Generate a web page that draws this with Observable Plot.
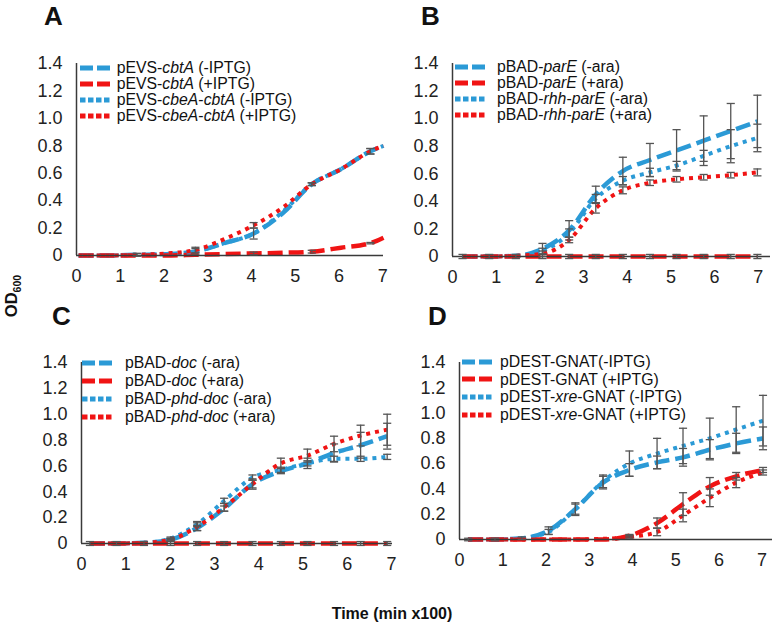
<!DOCTYPE html>
<html>
<head>
<meta charset="utf-8">
<script src="https://cdn.jsdelivr.net/npm/d3@7"></script>
<script src="https://cdn.jsdelivr.net/npm/@observablehq/plot@0.6"></script>
<style>
  html, body { margin: 0; padding: 0; background: #fff; }
  #root { position: relative; width: 779px; height: 632px; overflow: hidden; font-family: "Liberation Sans", Arial, sans-serif; }
  .panel { position: absolute; }
  .legend { position: absolute; font-size: 15.8px; color: #111; white-space: nowrap; }
  .legend .row { display: flex; align-items: center; }
</style>
</head>
<body>
<div id="root"></div>
<script>
// ---------- shared tick labels ----------
const yTicks = [0, 0.2, 0.4, 0.6, 0.8, 1.0, 1.2, 1.4];
const yTickLabels = ["0", "0.2", "0.4", "0.6", "0.8", "1.0", "1.2", "1.4"];
const xTicks = [0, 1, 2, 3, 4, 5, 6, 7];
const xTickLabels = ["0", "1", "2", "3", "4", "5", "6", "7"];

// ---------- Panel A ----------
const A_x  = [0.05, 0.72, 1.38, 2.05, 2.72, 3.38, 4.05, 4.72, 5.38, 6.05, 6.72, 7.02];
const A_y1 = [0, 0, 0.005, 0.01, 0.03, 0.09, 0.16, 0.31, 0.52, 0.63, 0.76, 0.80];
const A_y2 = [0, 0, 0, 0, 0.005, 0.01, 0.015, 0.02, 0.028, 0.057, 0.09, 0.13];
const A_y3 = [0, 0, 0.005, 0.01, 0.03, 0.09, 0.16, 0.32, 0.52, 0.63, 0.76, 0.80];
const A_y4 = [0, 0, 0.005, 0.015, 0.04, 0.12, 0.22, 0.35, 0.52, 0.63, 0.76, 0.80];
const A_e1 = [null, null, 0.01, null, 0.02, null, 0.04, null, 0.01, null, 0.02, null];
const A_e2 = [null, null, null, null, null, null, 0.01, null, 0.01, null, 0.005, null];
const A_e3 = [null, null, null, null, null, null, null, null, null, null, null, null];
const A_e4 = [null, null, 0.01, null, 0.02, null, 0.02, null, 0.01, null, 0.02, null];
const A_labels = ["pEVS-<i>cbtA</i> (-IPTG)", "pEVS-<i>cbtA</i> (+IPTG)", "pEVS-<i>cbeA</i>-<i>cbtA</i> (-IPTG)", "pEVS-<i>cbeA</i>-<i>cbtA</i> (+IPTG)"];

// ---------- Panel B ----------
const B_x  = [0.23, 0.84, 1.45, 2.06, 2.67, 3.28, 3.9, 4.52, 5.13, 5.75, 6.37, 6.98];
const B_y1 = [0, 0, 0.005, 0.055, 0.19, 0.45, 0.62, 0.70, 0.77, 0.84, 0.91, 0.98];
const B_y2 = [0, 0, 0, 0, 0, 0, 0, 0, 0, 0, 0, 0];
const B_y3 = [0, 0, 0.005, 0.04, 0.17, 0.42, 0.55, 0.61, 0.66, 0.73, 0.80, 0.86];
const B_y4 = [0, 0, 0.005, 0.02, 0.12, 0.35, 0.48, 0.535, 0.56, 0.575, 0.59, 0.61];
const B_e1 = [null, null, null, 0.04, 0.07, 0.06, 0.1, 0.12, 0.15, 0.18, 0.2, 0.19];
const B_e2 = [0.015, 0.015, 0.015, 0.015, 0.015, 0.015, 0.015, 0.015, 0.015, 0.015, 0.015, 0.015];
const B_e3 = [null, null, null, 0.02, 0.03, 0.03, 0.03, 0.03, 0.03, 0.04, 0.12, 0.1];
const B_e4 = [null, null, null, 0.02, 0.02, 0.035, 0.025, 0.02, 0.02, 0.02, 0.02, 0.025];
const B_labels = ["pBAD-<i>parE</i> (-ara)", "pBAD-<i>parE</i> (+ara)", "pBAD-<i>rhh</i>-<i>parE</i> (-ara)", "pBAD-<i>rhh</i>-<i>parE</i> (+ara)"];

// ---------- Panel C ----------
const C_x  = [0.19, 0.79, 1.41, 2.01, 2.61, 3.22, 3.86, 4.5, 5.1, 5.7, 6.3, 6.9];
const C_y1 = [0, 0, 0.005, 0.03, 0.12, 0.27, 0.46, 0.56, 0.62, 0.70, 0.76, 0.83];
const C_y2 = [0, 0, 0, 0, 0, 0, 0, 0, 0, 0, 0, 0];
const C_y3 = [0, 0, 0.005, 0.04, 0.15, 0.33, 0.51, 0.57, 0.62, 0.655, 0.655, 0.67];
const C_y4 = [0, 0, 0.005, 0.03, 0.13, 0.28, 0.46, 0.62, 0.68, 0.77, 0.835, 0.88];
const C_e1 = [null, null, null, 0.01, 0.02, 0.02, 0.03, 0.02, 0.04, 0.07, 0.1, 0.1];
const C_e2 = [0.015, 0.015, 0.015, 0.015, 0.015, 0.015, 0.015, 0.015, 0.015, 0.015, 0.015, 0.015];
const C_e3 = [null, null, null, 0.01, 0.02, 0.02, 0.02, 0.02, 0.02, 0.02, 0.02, 0.02];
const C_e4 = [null, null, null, 0.01, 0.03, 0.03, 0.04, 0.04, 0.05, 0.06, 0.08, 0.12];
const C_labels = ["pBAD-<i>doc</i> (-ara)", "pBAD-<i>doc</i> (+ara)", "pBAD-<i>phd</i>-<i>doc</i> (-ara)", "pBAD-<i>phd</i>-<i>doc</i> (+ara)"];

// ---------- Panel D ----------
const D_x  = [0.2, 0.82, 1.44, 2.06, 2.68, 3.32, 3.93, 4.57, 5.17, 5.79, 6.4, 7.02];
const D_y1 = [0, 0, 0.01, 0.07, 0.24, 0.45, 0.55, 0.61, 0.65, 0.71, 0.76, 0.80];
const D_y2 = [0, 0, 0, 0, 0, 0, 0.03, 0.13, 0.28, 0.42, 0.50, 0.55];
const D_y3 = [0, 0, 0.01, 0.06, 0.24, 0.46, 0.60, 0.68, 0.74, 0.80, 0.87, 0.94];
const D_y4 = [0, 0, 0, 0, 0, 0.005, 0.02, 0.06, 0.19, 0.33, 0.45, 0.53];
const D_e1 = [0.01, 0.01, 0.01, 0.03, 0.05, 0.05, 0.05, 0.05, 0.07, 0.08, 0.08, 0.09];
const D_e2 = [null, null, null, null, null, null, 0.01, 0.04, 0.09, 0.07, 0.03, 0.02];
const D_e3 = [null, null, null, 0.02, 0.04, 0.05, 0.1, 0.12, 0.14, 0.16, 0.18, 0.2];
const D_e4 = [null, null, null, null, null, null, 0.01, 0.03, 0.05, 0.07, 0.04, 0.02];
const D_labels = ["pDEST-GNAT(-IPTG)", "pDEST-GNAT (+IPTG)", "pDEST-<i>xre</i>-GNAT (-IPTG)", "pDEST-<i>xre</i>-GNAT (+IPTG)"];

// ---------- styles ----------
const BLUE = "#2b9ad6", RED = "#f01414";
const seriesStyle = [
  {stroke: BLUE, dash: "15,6", width: 4.5, legDash: "13,4"},
  {stroke: RED,  dash: "15,6", width: 4.5, legDash: "13,4"},
  {stroke: BLUE, dash: "4,5",  width: 4,   legDash: "5.5,2.5"},
  {stroke: RED,  dash: "4,5",  width: 4,   legDash: "5.5,2.5"}
];

const panels = [
  {letter: "A", x: A_x, ys: [A_y1, A_y2, A_y3, A_y4], es: [A_e1, A_e2, A_e3, A_e4], labels: A_labels,
   left: 0, top: 0, width: 390, height: 290, mL: 76, mT: 63, mB: 35, mR: 7, xMax: 7.02,
   leg: {left: 80, top: 59.7, row: 16.1, gap: 4.7}, letterPos: [44, 25]},
  {letter: "B", x: B_x, ys: [B_y1, B_y2, B_y3, B_y4], es: [B_e1, B_e2, B_e3, B_e4], labels: B_labels,
   left: 390, top: 0, width: 389, height: 290, mL: 62, mT: 63, mB: 34, mR: 9, xMax: 7.28,
   leg: {left: 455, top: 58.7, row: 16.1, gap: 10}, letterPos: [421, 25]},
  {letter: "C", x: C_x, ys: [C_y1, C_y2, C_y3, C_y4], es: [C_e1, C_e2, C_e3, C_e4], labels: C_labels,
   left: 0, top: 300, width: 396, height: 290, mL: 81, mT: 62, mB: 47, mR: 4, xMax: 7.02,
   leg: {left: 82, top: 354.4, row: 17.8, gap: 11}, letterPos: [52, 325]},
  {letter: "D", x: D_x, ys: [D_y1, D_y2, D_y3, D_y4], es: [D_e1, D_e2, D_e3, D_e4], labels: D_labels,
   left: 390, top: 300, width: 389, height: 290, mL: 69, mT: 62, mB: 51, mR: 7, xMax: 7.24,
   leg: {left: 462, top: 352.8, row: 17.8, gap: 6}, letterPos: [428, 325]}
];

const capSymbol = {
  draw(ctx, size) {
    const w = Math.sqrt(size) / 2;
    ctx.moveTo(-w, 0);
    ctx.lineTo(w, 0);
  }
};

const root = document.getElementById("root");

for (const p of panels) {
  const series = p.ys.map((ys, i) => ys.map((y, j) => ({x: p.x[j], y, e: p.es[i][j], s: i})));
  const errs = series.flat().filter(d => d.e != null);

  const marks = [
    Plot.axisY({ticks: yTicks, tickSize: 0, tickPadding: 14, label: null,
      tickFormat: d => yTickLabels[yTicks.indexOf(d)], fontSize: 18, fill: "#222"}),
    Plot.axisX({ticks: xTicks, tickSize: 0, tickPadding: 14, label: null,
      tickFormat: d => xTickLabels[xTicks.indexOf(d)], fontSize: 18, fill: "#222"}),
    Plot.ruleX([0], {stroke: "#3a3a3a", strokeWidth: 1.5}),
  ];
  series.forEach((rows, i) => {
    const st = seriesStyle[i];
    marks.push(Plot.line(rows, {x: "x", y: "y", stroke: st.stroke, strokeWidth: st.width,
      strokeDasharray: st.dash, strokeLinecap: "butt", curve: "monotone-x"}));
  });
  marks.push(Plot.ruleY([0], {stroke: "#3a3a3a", strokeWidth: 1.5}));
  marks.push(Plot.ruleX(errs, {x: "x", y1: d => d.y - d.e, y2: d => d.y + d.e, stroke: "#555", strokeWidth: 1.3}));
  marks.push(Plot.dot(errs, {x: "x", y: d => d.y + d.e, symbol: capSymbol, r: 4.6, stroke: "#555", strokeWidth: 1.3, fill: "none"}));
  marks.push(Plot.dot(errs, {x: "x", y: d => d.y - d.e, symbol: capSymbol, r: 4.6, stroke: "#555", strokeWidth: 1.3, fill: "none"}));

  const chart = Plot.plot({
    width: p.width, height: p.height,
    marginLeft: p.mL, marginTop: p.mT, marginBottom: p.mB, marginRight: p.mR,
    x: {domain: [0, p.xMax]},
    y: {domain: [0, 1.4]},
    style: {background: "transparent", overflow: "visible", fontFamily: "Liberation Sans, Arial, sans-serif", color: "#222"},
    marks
  });
  chart.classList.add("panel");
  chart.style.left = p.left + "px";
  chart.style.top = p.top + "px";
  chart.style.maxWidth = "none";
  root.appendChild(chart);

  // legend
  const leg = document.createElement("div");
  leg.className = "legend";
  leg.style.left = p.leg.left + "px";
  leg.style.top = p.leg.top + "px";
  p.labels.forEach((lab, i) => {
    const st = seriesStyle[i];
    const row = document.createElement("div");
    row.className = "row";
    row.style.height = p.leg.row + "px";
    row.innerHTML = `<svg width="32" height="8" style="flex:none"><line x1="0" x2="32" y1="4" y2="4" stroke="${st.stroke}" stroke-width="5" stroke-dasharray="${st.legDash}"/></svg><span style="margin-left:${p.leg.gap}px">${lab}</span>`;
    leg.appendChild(row);
  });
  root.appendChild(leg);
}

// overlay texts: panel letters and shared axis titles
const ns = "http://www.w3.org/2000/svg";
const ov = document.createElementNS(ns, "svg");
ov.setAttribute("width", 779);
ov.setAttribute("height", 632);
ov.style.position = "absolute";
ov.style.left = "0px";
ov.style.top = "0px";
ov.style.pointerEvents = "none";
ov.style.fontFamily = "Liberation Sans, Arial, sans-serif";
let html = "";
for (const p of panels) {
  html += `<text x="${p.letterPos[0]}" y="${p.letterPos[1]}" font-size="26" font-weight="bold" fill="#111">${p.letter}</text>`;
}
html += `<text transform="translate(17,296) rotate(-90)" text-anchor="middle" font-size="16.5" font-weight="bold" fill="#111">OD<tspan font-size="10.5" dy="4">600</tspan></text>`;
html += `<text x="392" y="619" text-anchor="middle" font-size="16" font-weight="bold" fill="#111">Time (min x100)</text>`;
ov.innerHTML = html;
root.appendChild(ov);
</script>
</body>
</html>
